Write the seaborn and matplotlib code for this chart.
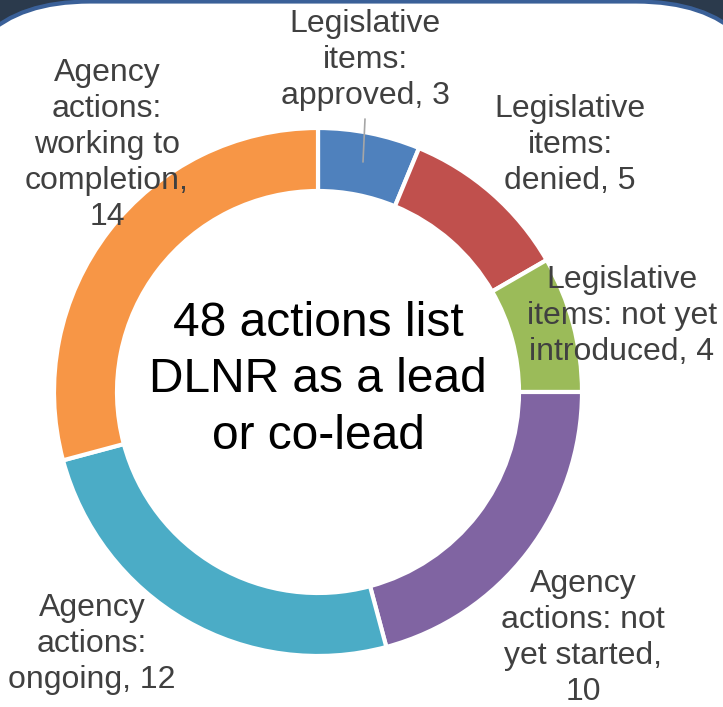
import matplotlib
matplotlib.use("Agg")
import matplotlib.pyplot as plt
from matplotlib.patches import FancyBboxPatch
import seaborn as sns

# ---- data ----
categories = [
    "Legislative\nitems:\napproved, 3",
    "Legislative\nitems:\ndenied, 5",
    "Legislative\nitems: not yet\nintroduced, 4",
    "Agency\nactions: not\nyet started,\n10",
    "Agency\nactions:\nongoing, 12",
    "Agency\nactions:\nworking to\ncompletion,\n14",
]
values = [3, 5, 4, 10, 12, 14]
center_text = "48 actions list\nDLNR as a lead\nor co-lead"
colors = ["#4F81BD", "#C0504D", "#9BBB59", "#8064A2", "#4BACC6", "#F79646"]

sns.set_theme(style="white")
plt.rcParams['font.family'] = ['Liberation Sans', 'DejaVu Sans']

W, H = 723, 707
fig = plt.figure(figsize=(W / 100, H / 100), dpi=100, facecolor="#2b3a4c")
ax = fig.add_axes([0, 0, 1, 1])
ax.set_facecolor("none")

# white slide panel with rounded top corners
panel = FancyBboxPatch((-50, -300), W + 103, H - 1.5 + 300,
                       boxstyle="round,pad=0,rounding_size=140",
                       facecolor="white", edgecolor="#3a6098", linewidth=3, zorder=0)
ax.add_patch(panel)

palette = sns.color_palette(colors)
cx, cy = 318, H - 392
R, width = 264, 63
ax.pie(values, colors=palette, startangle=90, counterclock=False,
       center=(cx, cy), radius=R,
       wedgeprops=dict(width=width, edgecolor="white", linewidth=3), frame=True)

ax.set_xlim(0, W)
ax.set_ylim(0, H)
ax.set_aspect("equal")
ax.axis("off")

# labels (pixel positions, top-down y)
label_pos = [(365, 60), (570, 145), (622, 316), (583, 638), (92, 644), (107, 145)]
for txt, (x, y) in zip(categories, label_pos):
    ax.text(x, H - y, txt, ha="center", va="center", multialignment="center",
            fontsize=23, color="#404040", linespacing=1.26, zorder=5)

# leader line for the small slice
ax.plot([365, 363], [H - 119, H - 162], color="#a6a6a6", lw=1.2, zorder=4)

ax.text(cx, H - 380, center_text, ha="center", va="center", multialignment="center",
        fontsize=34.5, color="black", linespacing=1.32, zorder=5)

fig.savefig("out.png", dpi=100, facecolor=fig.get_facecolor())
